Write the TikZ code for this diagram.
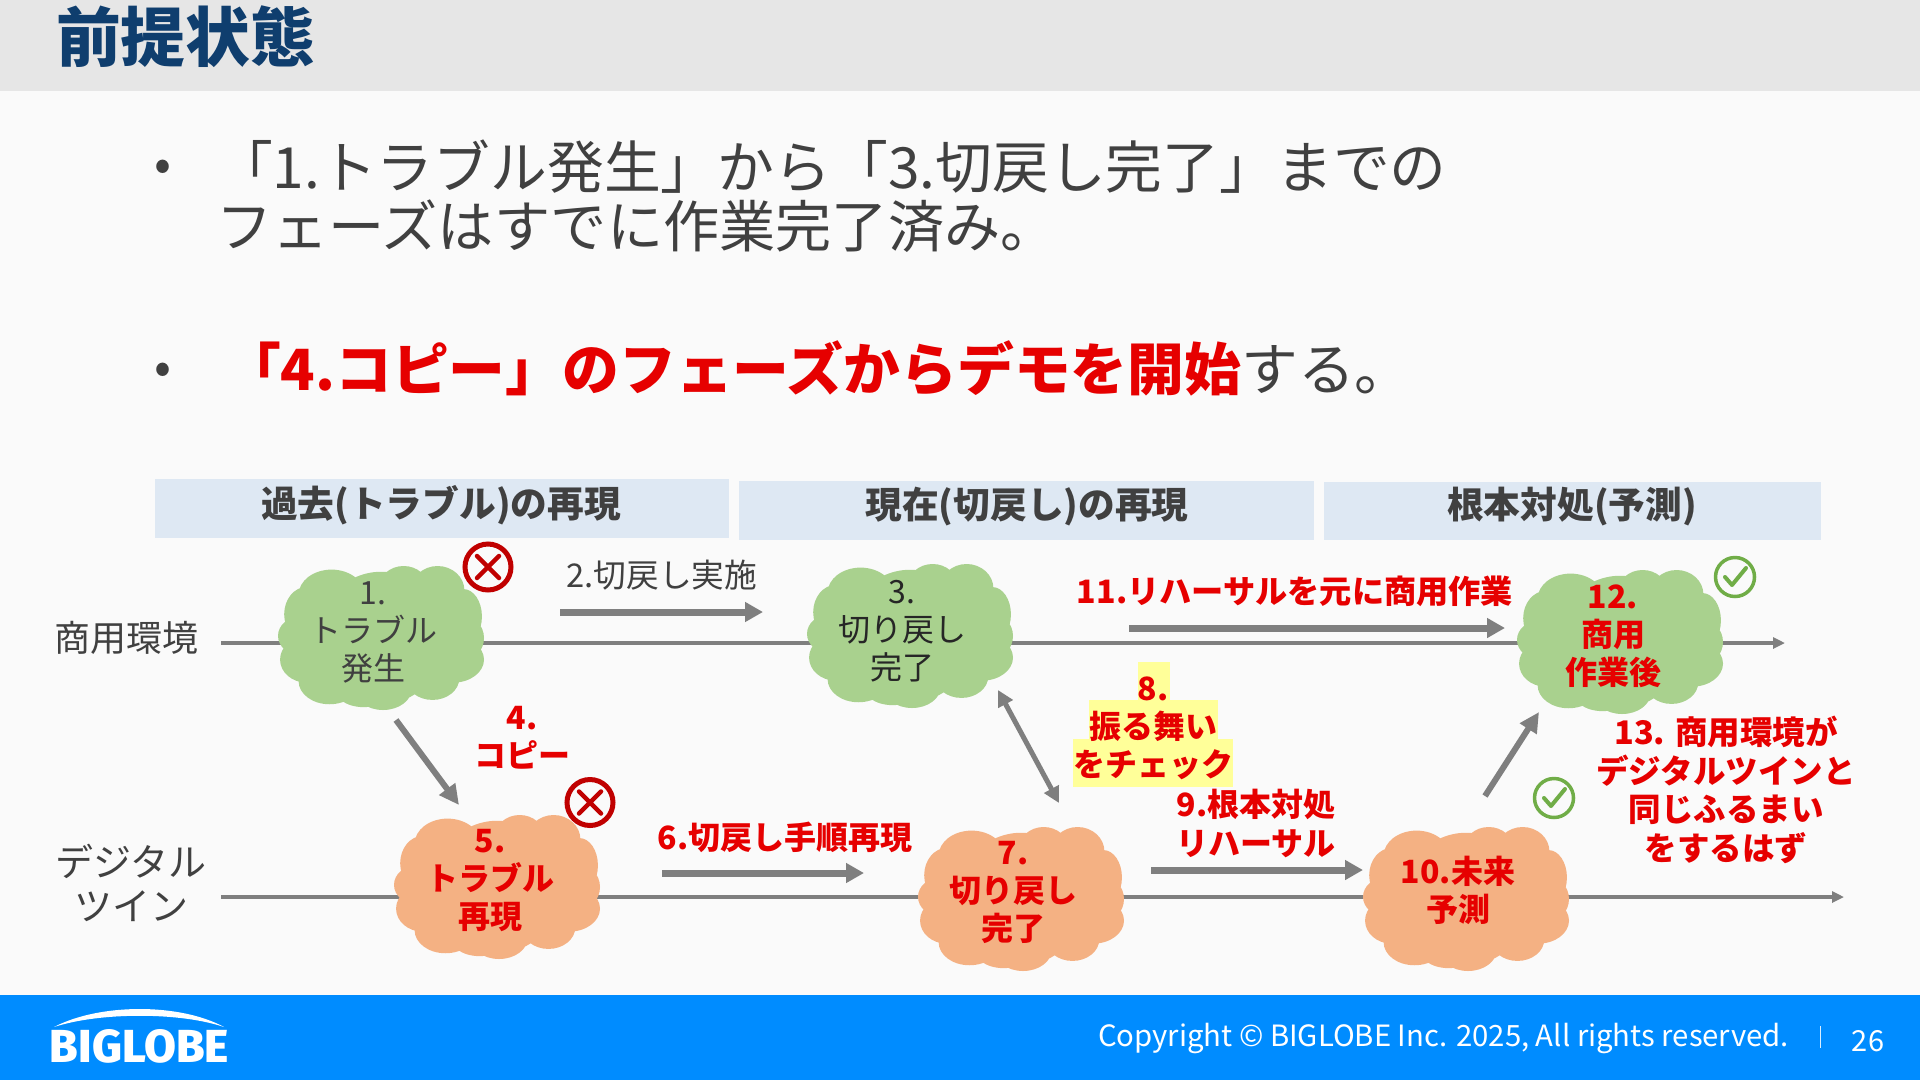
\documentclass[tikz,border=0pt]{standalone}
\usepackage{fontspec}
\usepackage{graphicx}
\setmainfont{Noto Sans CJK JP}
\newfontfamily\logofont{Fira Sans ExtraBold}
\usetikzlibrary{arrows.meta}
\definecolor{bgc}{HTML}{FAFAFA}
\definecolor{headc}{HTML}{E6E6E6}
\definecolor{titlec}{HTML}{0F3E6E}
\definecolor{footc}{HTML}{008CFF}
\definecolor{bandc}{HTML}{DEE8F3}
\definecolor{txt}{HTML}{404040}
\definecolor{redt}{HTML}{E60000}
\definecolor{linec}{HTML}{7F7F7F}
\definecolor{greenc}{HTML}{A9D18E}
\definecolor{orangec}{HTML}{F4B183}
\definecolor{okc}{HTML}{70AD47}
\definecolor{ngc}{HTML}{C00000}
\definecolor{hl}{HTML}{FFFF99}
\newcommand{\fs}[2]{\fontsize{#1}{#2}\selectfont}
\newcommand{\pptcloud}[3]{%
\begin{scope}[shift={(#1,#2)}]\begin{scope}[x=103pt,y=-72pt]
\fill[#3] (0,0) ellipse [x radius=.84,y radius=.84]
 (0,0) ellipse [x radius=.92,y radius=.62]
 (0,0) ellipse [x radius=.62,y radius=.92]
 (-.78,-.03) ellipse [x radius=.22,y radius=.27]
 (-.72,.3) ellipse [x radius=.26,y radius=.32]
 (-.5,.6) ellipse [x radius=.3,y radius=.32]
 (-.17,.66) ellipse [x radius=.3,y radius=.3]
 (.02,.7) ellipse [x radius=.28,y radius=.3]
 (.5,.56) ellipse [x radius=.26,y radius=.3]
 (.7,.3) ellipse [x radius=.3,y radius=.32]
 (.78,.0) ellipse [x radius=.22,y radius=.32]
 (.8,-.3) ellipse [x radius=.18,y radius=.38]
 (.55,-.66) ellipse [x radius=.26,y radius=.34]
 (.22,-.7) ellipse [x radius=.24,y radius=.3]
 (-.48,-.6) ellipse [x radius=.32,y radius=.35]
 (-.72,-.33) ellipse [x radius=.22,y radius=.38];
\end{scope}\end{scope}}
\tikzset{
 x=1pt,y=-1pt,
 tx/.style={inner sep=0pt,outer sep=0pt,align=center,anchor=center},
 normal/.style={tx,text=txt,font=\fs{32}{38}},
 dark/.style={tx,text=black!85,font=\fs{32}{38}},
 red/.style={tx,text=redt,font=\fs{32}{38}\bfseries},
 bandtext/.style={tx,text=txt,font=\fs{36.7}{42}\bfseries},
 timeline/.style={draw=linec,line width=3.5pt},
 timelinearrow/.style={timeline,-{Triangle[length=12pt,width=11pt]}},
 thickarrow/.style={draw=linec,line width=7pt,-{Triangle[length=18pt,width=19pt]}},
 diagarrow/.style={draw=linec,line width=6pt,-{Triangle[length=20pt,width=19pt]}},
 bidiarrow/.style={draw=linec,line width=5pt,{Triangle[length=16pt,width=16pt]}-{Triangle[length=16pt,width=16pt]}},
 body/.style={inner sep=0pt,outer sep=0pt,anchor=base west,text=txt,font=\fs{56.8}{60}},
}
\begin{document}
\begin{tikzpicture}
\useasboundingbox (0,0) rectangle (1920,1080);
\fill[bgc] (0,0) rectangle (1920,1080);
\fill[headc] (0,0) rectangle (1920,91);
\fill[footc] (0,995) rectangle (1920,1080);
\node[tx,anchor=west,text=titlec,font=\fs{64.8}{72}\bfseries] (title) at (56,37) {前提状態};
% body
\node[body,anchor=center,font=\fs{50}{60}] (b1) at (163,171) {•};
\node[body] (l1) at (216,188) {「1.トラブル発生」から「3.切戻し完了」までの};
\node[body,font=\fs{56.2}{60}] (l2) at (216,247) {フェーズはすでに作業完了済み。};
\node[body,anchor=center,font=\fs{50}{60}] (b2) at (163,374) {•};
\node[body] (l3) at (224,390) {\textcolor{redt}{\bfseries 「4.コピー」のフェーズからデモを開始}する。};
% bands
\fill[bandc] (155,479) rectangle (729,538);
\fill[bandc] (739,481) rectangle (1314,540);
\fill[bandc] (1324,482) rectangle (1821,540);
\node[bandtext] (h1) at (441,505) {過去(トラブル)の再現};
\node[bandtext] (h2) at (1027,507) {現在(切戻し)の再現};
\node[bandtext] (h3) at (1572,507) {根本対処(予測)};
% timelines
\coordinate (ta) at (221,643); \coordinate (tb) at (1785,643);
\coordinate (da) at (221,897); \coordinate (db) at (1844,897);
\draw[timelinearrow] (ta) -- (tb);
\draw[timelinearrow] (da) -- (db);
% clouds
\pptcloud{381}{638}{greenc}
\pptcloud{910}{636}{greenc}
\pptcloud{1620}{642}{greenc}
\pptcloud{497}{887}{orangec}
\pptcloud{1021}{899}{orangec}
\pptcloud{1466}{899}{orangec}
% yellow highlight
\fill[hl] (1138,662) rectangle (1170,701);
\fill[hl] (1089,700) rectangle (1218,740);
\fill[hl] (1073,739) rectangle (1233,787);
% labels
\node[tx,text=txt,font=\fs{36}{44}] (env) at (126,638) {商用環境};
\node[tx,text=txt,font=\fs{38}{44}] (dt) at (131,883) {デジタル\\ツイン};
\node[normal] (n1) at (373,632) {1.\\トラブル\\発生};
\node[normal,font=\fs{32.7}{36}] (n2) at (662,575) {2.切戻し実施};
\node[dark] (n3) at (902,631) {3.\\切り戻し\\完了};
\node[red] (n4) at (522,738) {4.\\コピー};
\node[red] (n5) at (490,881) {5.\\トラブル\\再現};
\node[red,font=\fs{32}{36}\bfseries] (n6) at (785,837) {6.切戻し手順再現};
\node[red] (n7) at (1013,892) {7.\\切り戻し\\完了};
\node[red] (n8) at (1153,728) {8.\\振る舞い\\をチェック};
\node[red,font=\fs{32}{39}\bfseries] (n9) at (1256,823) {9.根本対処\\リハーサル};
\node[red] (n10) at (1458,890) {10.未来\\予測};
\node[red,font=\fs{32.2}{36}\bfseries] (n11) at (1295,591) {11.リハーサルを元に商用作業};
\node[red] (n12) at (1613,636) {12.\\商用\\作業後};
\node[red,font=\fs{32.5}{38.5}\bfseries] (n13) at (1726,790) {13. 商用環境が\\デジタルツインと\\同じふるまい\\をするはず};
% arrows
\coordinate (a2s) at (560,612); \coordinate (a2e) at (763,612);
\coordinate (a6s) at (662,873); \coordinate (a6e) at (864,873);
\coordinate (a11s) at (1129,628); \coordinate (a11e) at (1505,628);
\coordinate (a9s) at (1151,870); \coordinate (a9e) at (1363,870);
\coordinate (a4s) at (396,720); \coordinate (a4e) at (459,805);
\coordinate (a8s) at (998,690); \coordinate (a8e) at (1059,803);
\coordinate (a10s) at (1485,796); \coordinate (a10e) at (1539,712);
\draw[thickarrow] (a2s) -- (a2e);
\draw[thickarrow] (a6s) -- (a6e);
\draw[thickarrow] (a11s) -- (a11e);
\draw[thickarrow] (a9s) -- (a9e);
\draw[diagarrow] (a4s) -- (a4e);
\draw[bidiarrow] (a8s) -- (a8e);
\draw[diagarrow] (a10s) -- (a10e);
% status icons
\foreach \n/\cx/\cy in {x1/488/567,x2/590/802.5}{
 \coordinate (\n) at (\cx,\cy);
 \draw[ngc,line width=5pt] (\n) circle [radius=23];
 \draw[ngc,line width=4.5pt,line cap=round] ([shift={(-11,-11)}]\n) -- ([shift={(11,11)}]\n) ([shift={(-11,11)}]\n) -- ([shift={(11,-11)}]\n);
}
\foreach \n/\cx/\cy in {k1/1735/577,k2/1554/798}{
 \coordinate (\n) at (\cx,\cy);
 \draw[okc,line width=3.5pt] (\n) circle [radius=19.5];
 \draw[okc,line width=4pt,line cap=round,line join=round] ([shift={(-10,0)}]\n) -- ([shift={(-3,8)}]\n) -- ([shift={(11,-9)}]\n);
}
% footer
\fill[white] (54,1027) .. controls (100,1003) and (180,1003) .. (224,1027) .. controls (180,1012) and (100,1012) .. cycle;
\node[tx,text=white] (logo) at (139.5,1046.5) {\resizebox{179pt}{33pt}{\logofont BIGLOBE}};
\node[tx,anchor=west,text=white,font=\fs{29.3}{32}] (copy) at (1098,1038) {Copyright © BIGLOBE Inc. 2025, All rights reserved.};
\coordinate (sepa) at (1820,1026); \coordinate (sepb) at (1820,1048);
\draw[white!85!footc,line width=1pt] (sepa) -- (sepb);
\node[tx,text=white,font=\fs{29}{32}] (page) at (1868,1041) {26};
\end{tikzpicture}
\end{document}
